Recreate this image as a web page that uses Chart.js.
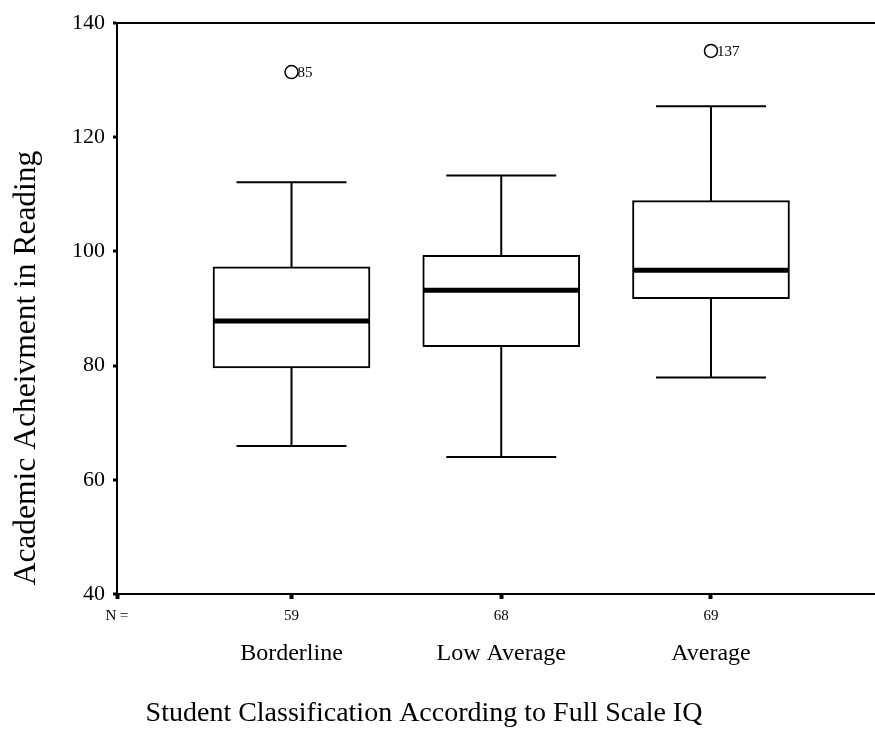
<!DOCTYPE html>
<html>
<head>
<meta charset="utf-8">
<script src="https://cdn.jsdelivr.net/npm/chart.js@4"></script>
<style>
  html, body { margin: 0; padding: 0; background: #fff; overflow: hidden; }
  #wrap { width: 875px; height: 741px; }
</style>
</head>
<body>
<div id="wrap"><canvas id="boxChart"></canvas></div>
<script>
const groups = ["Borderline", "Low Average", "Average"];
const groupN = ["59", "68", "69"];
const whiskerLow = [65.9, 64.0, 77.9];
const q1 = [79.6, 83.3, 91.7];
const median = [87.8, 93.2, 96.7];
const q3 = [97.3, 99.3, 108.9];
const whiskerHigh = [112.1, 113.3, 125.4];
const outlierGroup = [1, 3];
const outlierValue = [131.4, 135.1];
const outlierCase = ["85", "137"];
const yTicks = [40, 60, 80, 100, 120, 140];

const serif = "'Liberation Serif', 'Times New Roman', serif";
Chart.defaults.color = "#000";
Chart.defaults.font.family = serif;

const xMin = 0.168, xMax = 3.782;
// fresh tick objects each time, the scales write labels into them
const groupTicks = () => groups.map((g, i) => ({ value: i + 1 }));

// whiskers behind the boxes, medians + case labels on top
const boxPlot = {
  id: "boxPlot",
  beforeDatasetsDraw(chart) {
    const { ctx, scales: { x, y } } = chart;
    ctx.save();
    ctx.strokeStyle = "#000";
    ctx.lineWidth = 2;
    groups.forEach((g, i) => {
      const cx = x.getPixelForValue(i + 1);
      const lo = y.getPixelForValue(whiskerLow[i]);
      const hi = y.getPixelForValue(whiskerHigh[i]);
      ctx.beginPath();
      ctx.moveTo(cx, lo); ctx.lineTo(cx, hi);
      ctx.moveTo(cx - 55, lo); ctx.lineTo(cx + 55, lo);
      ctx.moveTo(cx - 55, hi); ctx.lineTo(cx + 55, hi);
      ctx.stroke();
    });
    ctx.restore();
  },
  afterDatasetsDraw(chart) {
    const { ctx, scales: { x, y } } = chart;
    ctx.save();
    ctx.strokeStyle = "#000";
    ctx.lineWidth = 5;
    groups.forEach((g, i) => {
      const cx = x.getPixelForValue(i + 1);
      const my = y.getPixelForValue(median[i]);
      ctx.beginPath();
      ctx.moveTo(cx - 78, my); ctx.lineTo(cx + 78, my);
      ctx.stroke();
    });
    ctx.fillStyle = "#000";
    ctx.font = "15px " + serif;
    ctx.textBaseline = "middle";
    ctx.textAlign = "left";
    outlierCase.forEach((label, i) => {
      const px = x.getPixelForValue(outlierGroup[i]);
      const py = y.getPixelForValue(outlierValue[i]);
      ctx.fillText(label, px + 6, py + 1);
    });
    ctx.restore();
  },
  afterDraw(chart) {
    const { ctx } = chart;
    ctx.save();
    ctx.fillStyle = "#000";
    ctx.textAlign = "center";
    ctx.textBaseline = "middle";
    ctx.font = "28px " + serif;
    ctx.fillText("Student Classification According to Full Scale IQ", 424, 714);
    ctx.translate(27, 368);
    ctx.rotate(-Math.PI / 2);
    ctx.font = "31.5px " + serif;
    ctx.fillText("Academic Acheivment in Reading", 0, 0);
    ctx.restore();
  }
};

new Chart(document.getElementById("boxChart"), {
  type: "scatter",
  data: {
    datasets: [
      {
        type: "scatter",
        data: outlierGroup.map((g, i) => ({ x: g, y: outlierValue[i] })),
        pointStyle: "circle",
        pointRadius: 6.5,
        pointBorderWidth: 1.5,
        pointBorderColor: "#000",
        pointBackgroundColor: "#fff"
      },
      {
        type: "bar",
        data: groups.map((g, i) => ({ x: i + 1, y: [q1[i], q3[i]] })),
        backgroundColor: "#fff",
        borderColor: "#000",
        borderWidth: 2,
        borderSkipped: false,
        barThickness: 157
      }
    ]
  },
  options: {
    responsive: true,
    maintainAspectRatio: false,
    animation: false,
    // point overflow would otherwise pull the right edge in
    layout: { autoPadding: false, padding: { top: 23, right: 0, left: 0, bottom: 0 } },
    plugins: { legend: { display: false }, tooltip: { enabled: false } },
    scales: {
      x: {
        type: "linear",
        position: "bottom",
        weight: 0,
        offset: false,
        min: xMin,
        max: xMax,
        afterBuildTicks: (s) => { s.ticks = [{ value: xMin }, ...groupTicks()]; },
        afterFit: (s) => { s.height = 40; },
        ticks: {
          font: { size: 15 },
          padding: 8,
          maxRotation: 0,
          callback: (v, i) => (i === 0 ? "N =" : groupN[i - 1])
        },
        grid: { offset: false, drawOnChartArea: false, tickLength: 5, tickWidth: 4, tickColor: "#000" },
        border: { display: true, color: "#000", width: 2 }
      },
      x2: {
        type: "linear",
        position: "bottom",
        axis: "x",
        weight: 1,
        offset: false,
        min: xMin,
        max: xMax,
        afterBuildTicks: (s) => { s.ticks = groupTicks(); },
        afterFit: (s) => { s.height = 107; },
        ticks: {
          font: { size: 24 },
          padding: 5,
          maxRotation: 0,
          callback: (v, i) => groups[i]
        },
        grid: { display: false, drawTicks: false },
        border: { display: false }
      },
      y: {
        type: "linear",
        min: 40,
        max: 140,
        afterBuildTicks: (s) => { s.ticks = yTicks.map(v => ({ value: v })); },
        afterFit: (s) => { s.width = 117; },
        ticks: { font: { size: 22 }, padding: 8 },
        grid: {
          color: (c) => (c.tick && c.tick.value === 140 ? "#000" : "rgba(0,0,0,0)"),
          lineWidth: 2,
          tickLength: 4,
          tickWidth: 3,
          tickColor: "#000"
        },
        border: { display: true, color: "#000", width: 2 }
      }
    }
  },
  plugins: [boxPlot]
});
</script>
</body>
</html>
